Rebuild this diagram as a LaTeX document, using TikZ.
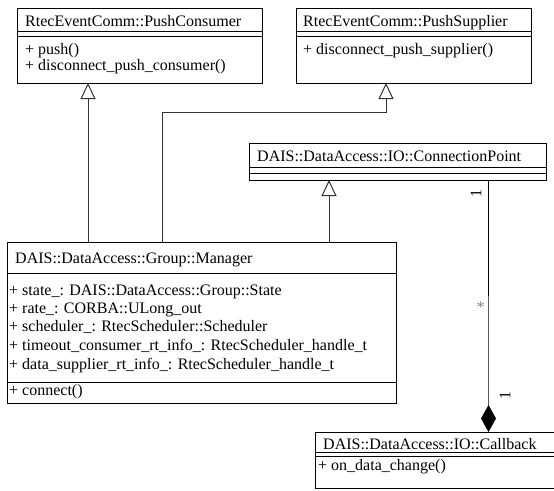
\documentclass[tikz,border=0pt]{standalone}
\usepackage{fontspec}
\setmainfont{Liberation Serif}
\usetikzlibrary{arrows.meta}

\tikzset{
  classbox/.style={draw=black, line width=1pt, anchor=north west, inner sep=0pt, outer sep=0pt},
  txt/.style={anchor=base west, inner sep=0pt, font=\fontsize{16}{18}\selectfont},
  mult/.style={inner sep=0pt, font=\fontsize{16}{18}\selectfont},
  inh/.style={draw=black!80, line width=1pt, -{Triangle[open, length=16pt, width=15pt, fill=white]}},
  assocstrong/.style={draw=black, line width=1.4pt},
  assocweak/.style={draw=black!65, line width=1pt, -{Diamond[length=27pt, width=15pt, fill=black, color=black]}},
}

\begin{document}
\begin{tikzpicture}[x=1pt, y=-1pt]
\useasboundingbox (0,0) rectangle (554,490);

% --- RtecEventComm::PushConsumer
\node[classbox, minimum width=245pt, minimum height=75pt] (pc) at (17,8) {};
\draw[line width=1pt] ([yshift=-23pt]pc.north west) -- ([yshift=-23pt]pc.north east);
\draw[line width=1pt] ([yshift=-28pt]pc.north west) -- ([yshift=-28pt]pc.north east);
\node[txt] (pcname) at (25,26.5) {RtecEventComm::PushConsumer};
\node[txt] (pcm1) at (25,54) {+ push()};
\node[txt] (pcm2) at (25,70.7) {+ disconnect\_push\_consumer()};

% --- RtecEventComm::PushSupplier
\node[classbox, minimum width=235pt, minimum height=75pt] (ps) at (296,8) {};
\draw[line width=1pt] ([yshift=-23pt]ps.north west) -- ([yshift=-23pt]ps.north east);
\draw[line width=1pt] ([yshift=-28pt]ps.north west) -- ([yshift=-28pt]ps.north east);
\node[txt] (psname) at (303,26.5) {RtecEventComm::PushSupplier};
\node[txt] (psm1) at (303,54.3) {+ disconnect\_push\_supplier()};

% --- DAIS::DataAccess::IO::ConnectionPoint
\node[classbox, minimum width=297pt, minimum height=37pt] (cp) at (249,143) {};
\draw[line width=1pt] ([yshift=-24pt]cp.north west) -- ([yshift=-24pt]cp.north east);
\draw[line width=1pt] ([yshift=-30pt]cp.north west) -- ([yshift=-30pt]cp.north east);
\node[txt] (cpname) at (257,161) {DAIS::DataAccess::IO::ConnectionPoint};

% --- DAIS::DataAccess::Group::Manager
\node[classbox, minimum width=389pt, minimum height=161pt] (mgr) at (7,242) {};
\draw[line width=1pt] ([yshift=-31pt]mgr.north west) -- ([yshift=-31pt]mgr.north east);
\draw[line width=1pt] ([yshift=-140pt]mgr.north west) -- ([yshift=-140pt]mgr.north east);
\node[txt] (mgrname) at (15,263.3) {DAIS::DataAccess::Group::Manager};
\node[txt] (mgra1) at (9,295) {+ state\_: DAIS::DataAccess::Group::State};
\node[txt] (mgra2) at (9,313.4) {+ rate\_: CORBA::ULong\_out};
\node[txt] (mgra3) at (9,331.8) {+ scheduler\_: RtecScheduler::Scheduler};
\node[txt] (mgra4) at (9,350.6) {+ timeout\_consumer\_rt\_info\_: RtecScheduler\_handle\_t};
\node[txt] (mgra5) at (9,369.3) {+ data\_supplier\_rt\_info\_: RtecScheduler\_handle\_t};
\node[txt] (mgrm1) at (9,395) {+ connect()};

% --- DAIS::DataAccess::IO::Callback
\node[classbox, minimum width=245pt, minimum height=56pt] (cb) at (315,432) {};
\draw[line width=1pt] ([yshift=-20pt]cb.north west) -- ([yshift=-20pt]cb.north east);
\draw[line width=1pt] ([yshift=-24pt]cb.north west) -- ([yshift=-24pt]cb.north east);
\node[txt] (cbname) at (323,449) {DAIS::DataAccess::IO::Callback};
\node[txt] (cbm1) at (318,470.7) {+ on\_data\_change()};

% --- generalisations
\coordinate (g1) at (88,0);
\coordinate (g2) at (162,0);
\coordinate (g2b) at (386,112);
\coordinate (g3) at (329,0);
\draw[inh] (g1 |- mgr.north) -- (g1 |- pc.south);
\draw[inh] (g2 |- mgr.north) |- (g2b) -- (g2b |- ps.south);
\draw[inh] (g3 |- mgr.north) -- (g3 |- cp.south);

% --- composition ConnectionPoint <>-- Callback
\coordinate (a1) at (488.5,0);
\coordinate (amid) at (488.5,296);
\draw[assocstrong] (a1 |- cp.south) -- (amid);
\draw[assocweak] (amid) -- (a1 |- cb.north);
\node[mult, rotate=90] (m1) at (476,193.5) {1};
\node[mult, text=black!50, anchor=base] (m2) at (480.7,312) {*};
\node[mult, rotate=90] (m3) at (505,395.5) {1};
\end{tikzpicture}
\end{document}
